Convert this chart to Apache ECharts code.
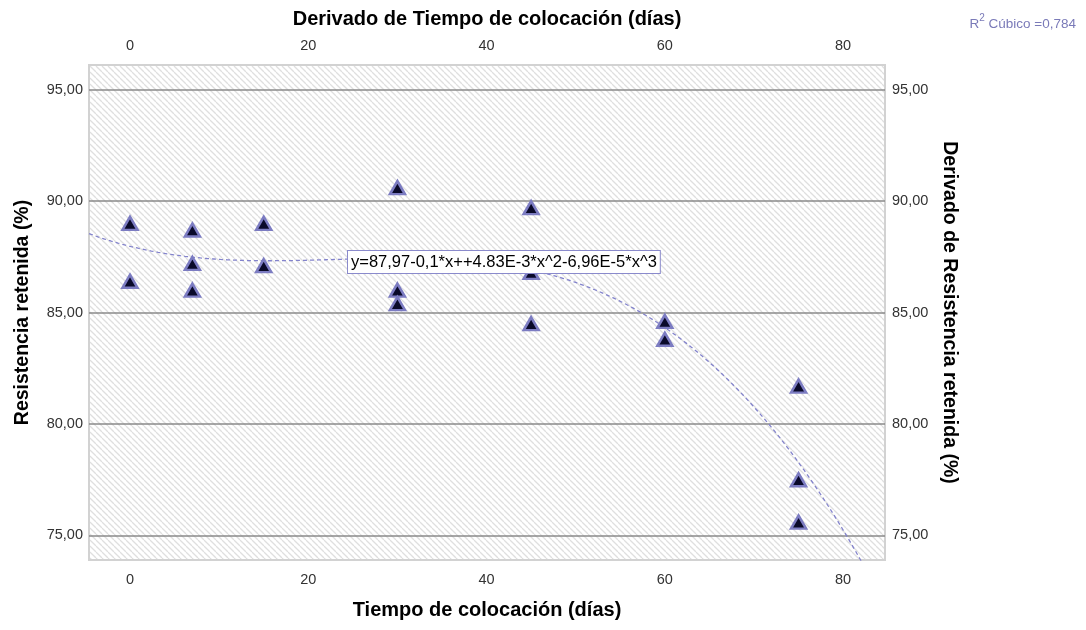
<!DOCTYPE html>
<html>
<head>
<meta charset="utf-8">
<script src="https://cdn.jsdelivr.net/npm/echarts@6/dist/echarts.min.js"></script>
<style>
  html, body { margin: 0; padding: 0; background: #ffffff; }
  #chart { width: 1086px; height: 630px; }
</style>
</head>
<body>
<div id="chart"></div>
<script>
// ---- data ----
const days = [0, 0, 7, 7, 7, 15, 15, 30, 30, 30, 45, 45, 45, 60, 60, 75, 75, 75];
const resistance = [89.0, 86.4, 88.7, 87.2, 86.0, 89.0, 87.1, 90.6, 86.0, 85.4, 89.7, 86.8, 84.5, 84.6, 83.8, 81.7, 77.5, 75.6];
// cubic fit coefficients shown on the chart (c0 + c1*x + c2*x^2 + c3*x^3)
const fitCoef = [87.97, -0.1, 4.83e-3, -6.96e-5];
const fitLabel = 'y=87,97-0,1*x++4.83E-3*x^2-6,96E-5*x^3';
const r2Label = '0,784';
const xTicks = [0, 20, 40, 60, 80];
const yTicks = [75, 80, 85, 90, 95];
const xRange = [-4.6, 84.7];
const yRange = [73.9, 96.1];

// ---- build ----
const points = days.map((d, i) => [d, resistance[i]]);
const fitLine = [];
for (let x = xRange[0]; x <= xRange[1] + 1e-9; x += 0.25) {
  const y = fitCoef[0] + fitCoef[1] * x + fitCoef[2] * x * x + fitCoef[3] * x * x * x;
  fitLine.push([x, y]);
}

// hatch pattern for the plot background
const tile = document.createElement('canvas');
tile.width = 6; tile.height = 6;
const tctx = tile.getContext('2d');
tctx.fillStyle = '#ffffff';
tctx.fillRect(0, 0, 6, 6);
tctx.strokeStyle = '#dfdfdf';
tctx.lineWidth = 1.25;
[-6, 0, 6].forEach(k => {
  tctx.beginPath();
  tctx.moveTo(k, 0);
  tctx.lineTo(k + 6, 6);
  tctx.stroke();
});

const fmtY = v => v.toFixed(2).replace('.', ',');
const font = 'Liberation Sans, Arial, sans-serif';
const tickLabel = { fontFamily: font, fontSize: 14.5, color: '#333333' };
const titleStyle = { fontFamily: font, fontSize: 20, fontWeight: 'bold', color: '#000000' };
const yTitleStyle = { fontFamily: font, fontSize: 19.5, fontWeight: 'bold', color: '#000000' };

const chart = echarts.init(document.getElementById('chart'), null, { renderer: 'canvas' });
chart.setOption({
  animation: false,
  backgroundColor: '#ffffff',
  grid: {
    left: 89, right: 201, top: 65, bottom: 70,
    show: true,
    backgroundColor: { image: tile, repeat: 'repeat' },
    borderColor: '#d2d2d2',
    borderWidth: 2
  },
  xAxis: [
    {
      type: 'value', position: 'bottom', min: xRange[0], max: xRange[1],
      name: 'Tiempo de colocación (días)', nameLocation: 'middle', nameGap: 40,
      nameTextStyle: titleStyle,
      axisLine: { show: false }, axisTick: { show: false, customValues: xTicks },
      axisLabel: { customValues: xTicks, margin: 12, ...tickLabel },
      splitLine: { show: false }
    },
    {
      type: 'value', position: 'top', min: xRange[0], max: xRange[1],
      name: 'Derivado de Tiempo de colocación (días)', nameLocation: 'middle', nameGap: 36,
      nameTextStyle: titleStyle,
      axisLine: { show: false }, axisTick: { show: false, customValues: xTicks },
      axisLabel: { customValues: xTicks, margin: 12, ...tickLabel },
      splitLine: { show: false }
    }
  ],
  yAxis: [
    {
      type: 'value', position: 'left', min: yRange[0], max: yRange[1],
      name: 'Resistencia retenida (%)', nameLocation: 'middle', nameGap: 56, nameRotate: 90,
      nameTextStyle: yTitleStyle,
      axisLine: { show: false }, axisTick: { show: false, customValues: yTicks },
      axisLabel: { customValues: yTicks, margin: 6, formatter: fmtY, ...tickLabel },
      splitLine: { show: true, lineStyle: { color: '#8a8a8a', width: 1.5 } }
    },
    {
      type: 'value', position: 'right', min: yRange[0], max: yRange[1],
      name: 'Derivado de Resistencia retenida (%)', nameLocation: 'middle', nameGap: 50, nameRotate: -90,
      nameTextStyle: yTitleStyle,
      axisLine: { show: false }, axisTick: { show: false, customValues: yTicks },
      axisLabel: { customValues: yTicks, margin: 7, formatter: fmtY, ...tickLabel },
      splitLine: { show: false }
    }
  ],
  series: [
    {
      type: 'line', xAxisIndex: 0, yAxisIndex: 0,
      data: fitLine, showSymbol: false, symbol: 'none', clip: true, smooth: false,
      lineStyle: { color: '#8383cc', width: 1.3, type: [4, 3] },
      z: 2
    },
    {
      type: 'scatter', xAxisIndex: 0, yAxisIndex: 0,
      data: points, symbol: 'triangle', symbolSize: [15, 13],
      itemStyle: { color: '#0a0a2a', borderColor: '#7c7cc2', borderWidth: 2.5, opacity: 1 },
      z: 3
    }
  ],
  graphic: [
    {
      type: 'text', left: 347, top: 250, z: 10,
      style: {
        text: fitLabel, fontFamily: font, fontSize: 16.5, fill: '#000000',
        backgroundColor: '#ffffff', borderColor: '#8a8acc', borderWidth: 1,
        padding: [3, 3, 2, 3]
      }
    },
    {
      type: 'text', right: 10, top: 13, z: 10,
      style: {
        text: '{r|R}{s|2}{r| Cúbico =' + r2Label + '}',
        rich: {
          r: { fontFamily: font, fontSize: 13.5, fill: '#7a7ab8', verticalAlign: 'bottom', lineHeight: 18 },
          s: { fontFamily: font, fontSize: 10, fill: '#7a7ab8', verticalAlign: 'top', lineHeight: 18 }
        }
      }
    }
  ]
});
</script>
</body>
</html>
